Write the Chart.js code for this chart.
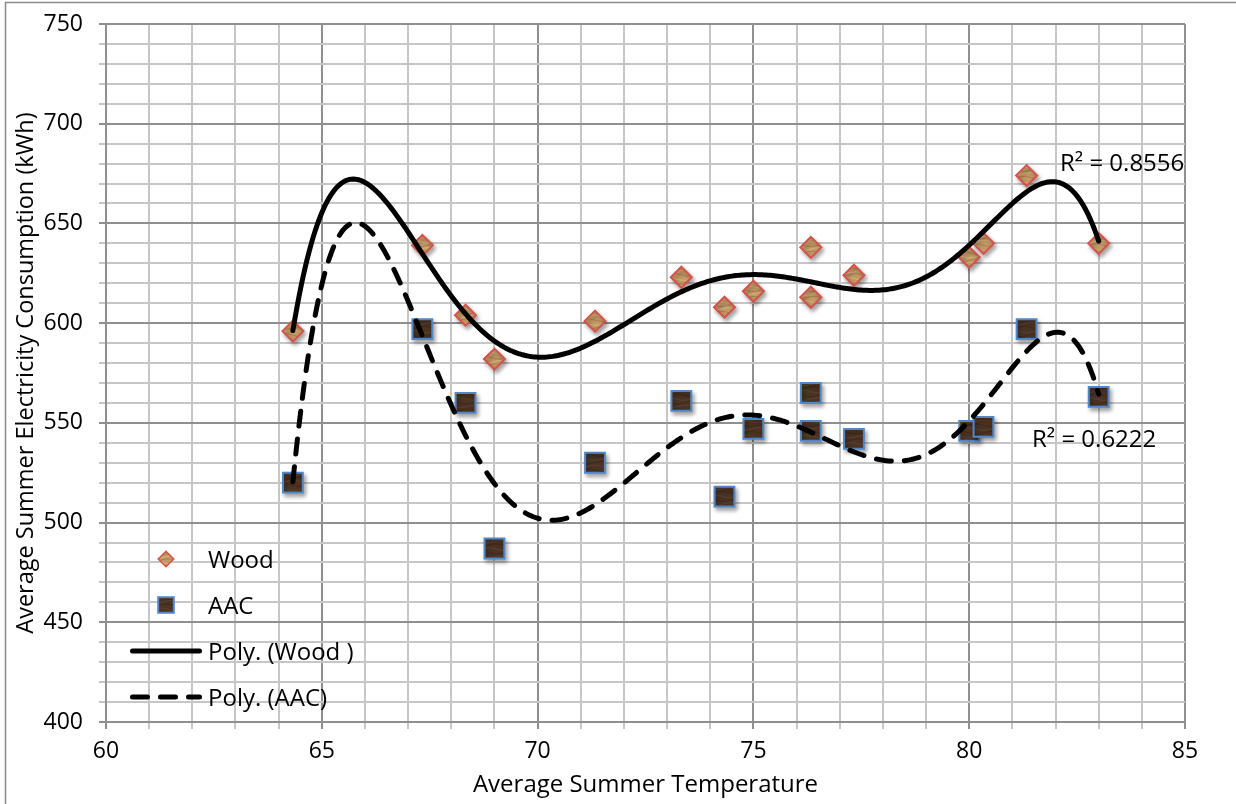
<!DOCTYPE html>
<html>
<head>
<meta charset="utf-8">
<title>Average Summer Electricity Consumption</title>
<script src="https://cdn.jsdelivr.net/npm/chart.js@4"></script>
<style>
  html, body { margin: 0; padding: 0; background: #fff; }
  #wrap { width: 1236px; height: 804px; }
</style>
</head>
<body>
<div id="wrap"><canvas id="chart" width="1236" height="804"></canvas></div>
<script>
// Average summer temperature of each site and the measured consumption per wall type
const temperatures = [64.33, 67.33, 68.33, 69.0, 71.33, 73.33, 74.33, 75.0, 76.33, 76.33, 77.33, 80.0, 80.33, 81.33, 83.0];
const woodKWh = [596, 639, 604, 582, 601, 623, 608, 616, 638, 613, 624, 633, 640, 674, 640];
const aacKWh  = [520, 597, 560, 487, 530, 561, 513, 547, 565, 546, 542, 546, 548, 597, 563];

const xTickLabels = [60, 65, 70, 75, 80, 85];
const yTickLabels = [400, 450, 500, 550, 600, 650, 700, 750];
const seriesNames = ['Wood', 'AAC', 'Poly. (Wood )', 'Poly. (AAC)'];
const rSquaredTexts = ['R\u00B2 = 0.8556', 'R\u00B2 = 0.6222'];
const xTitle = 'Average Summer Temperature';
const yTitle = 'Average Summer Electricity Consumption (kWh)';
const TREND_ORDER = 6;

const FONT = '"Open Sans", "Noto Sans", sans-serif';

// Least-squares polynomial trendline (x is centred and scaled to keep the system well conditioned)
function polyTrend(xs, ys, order) {
  const lo = Math.min(...xs), hi = Math.max(...xs);
  const cx = (lo + hi) / 2, sx = (hi - lo) / 2;
  const n = order + 1;
  const A = Array.from({ length: n }, () => new Array(n).fill(0));
  const b = new Array(n).fill(0);
  xs.forEach((x, k) => {
    const u = (x - cx) / sx;
    const p = [1];
    for (let i = 1; i < 2 * n; i++) p.push(p[i - 1] * u);
    for (let i = 0; i < n; i++) {
      b[i] += ys[k] * p[i];
      for (let j = 0; j < n; j++) A[i][j] += p[i + j];
    }
  });
  for (let c = 0; c < n; c++) {
    let piv = c;
    for (let r = c + 1; r < n; r++) if (Math.abs(A[r][c]) > Math.abs(A[piv][c])) piv = r;
    [A[c], A[piv]] = [A[piv], A[c]];
    [b[c], b[piv]] = [b[piv], b[c]];
    for (let r = c + 1; r < n; r++) {
      const f = A[r][c] / A[c][c];
      for (let j = c; j < n; j++) A[r][j] -= f * A[c][j];
      b[r] -= f * b[c];
    }
  }
  const coef = new Array(n).fill(0);
  for (let i = n - 1; i >= 0; i--) {
    let s = b[i];
    for (let j = i + 1; j < n; j++) s -= A[i][j] * coef[j];
    coef[i] = s / A[i][i];
  }
  const f = x => { const u = (x - cx) / sx; let v = 0; for (let i = n - 1; i >= 0; i--) v = v * u + coef[i]; return v; };
  const pts = [];
  const steps = 400;
  for (let i = 0; i <= steps; i++) {
    const x = lo + (hi - lo) * i / steps;
    pts.push({ x, y: f(x) });
  }
  return pts;
}

// Small wood-grain tiles used as marker fills
function grainPattern(ctx, base, dark, light) {
  const size = 30;
  const c = document.createElement('canvas');
  c.width = size; c.height = size;
  const g = c.getContext('2d');
  g.fillStyle = base;
  g.fillRect(0, 0, size, size);
  g.lineWidth = 1;
  for (let i = 0; i < 8; i++) {
    g.strokeStyle = i % 2 ? dark : light;
    g.globalAlpha = 0.7;
    g.beginPath();
    for (let x = 0; x <= size; x += 1.5) {
      const y = i * 3.75 + 1.5 + 1.3 * Math.sin((x + i * 7) / 4.8);
      if (x === 0) g.moveTo(x, y); else g.lineTo(x, y);
    }
    g.stroke();
  }
  return ctx.createPattern(c, 'repeat');
}

const canvas = document.getElementById('chart');
const ctx = canvas.getContext('2d');
const woodFill = grainPattern(ctx, '#c49a66', '#9e7444', '#dcbd8c');
const aacFill  = grainPattern(ctx, '#4a3323', '#3a2518', '#624734');

const WOOD_BORDER = '#d6524a';
const AAC_BORDER = '#4f87c9';

const toPoints = ys => temperatures.map((t, i) => ({ x: t, y: ys[i] }));

// Drop shadow under the scatter markers
const markerShadow = {
  id: 'markerShadow',
  beforeDatasetDraw(chart, args) {
    if (!chart.data.datasets[args.index].shadow) return;
    const c = chart.ctx;
    c.save();
    c.shadowColor = 'rgba(0,0,0,0.35)';
    c.shadowBlur = 4;
    c.shadowOffsetX = 2;
    c.shadowOffsetY = 3;
  },
  afterDatasetDraw(chart, args) {
    if (chart.data.datasets[args.index].shadow) chart.ctx.restore();
  }
};

// Axis titles, R² labels, in-plot legend and the outer frame
const decorations = {
  id: 'decorations',
  afterDraw(chart) {
    const c = chart.ctx;
    const area = chart.chartArea;
    c.save();
    c.fillStyle = '#000';
    c.font = '24px ' + FONT;
    c.textBaseline = 'alphabetic';

    // x title
    c.textAlign = 'center';
    c.fillText(xTitle, (area.left + area.right) / 2, 792);

    // y title, centred on the plot area
    c.save();
    c.translate(33, (area.top + area.bottom) / 2);
    c.rotate(-Math.PI / 2);
    c.font = '23.5px ' + FONT;
    c.fillText(yTitle, 0, 0);
    c.restore();

    // R² labels
    c.textAlign = 'left';
    c.fillText(rSquaredTexts[0], 1060, 171);
    c.fillText(rSquaredTexts[1], 1032, 447);

    // legend
    const rows = [559, 605, 651, 697];
    const textX = 208;
    const markX = 166;
    const helpers = Chart.helpers;

    c.save();
    c.fillStyle = woodFill; c.strokeStyle = WOOD_BORDER; c.lineWidth = 1.5;
    helpers.drawPoint(c, { pointStyle: 'rectRot', radius: 7.8, rotation: 0, borderWidth: 1.5 }, markX, rows[0]);
    c.fillStyle = aacFill; c.strokeStyle = AAC_BORDER; c.lineWidth = 2;
    helpers.drawPoint(c, { pointStyle: 'rect', radius: 11, rotation: 0, borderWidth: 2 }, markX, rows[1]);
    c.restore();

    c.save();
    c.strokeStyle = '#000';
    c.lineWidth = 5;
    c.lineCap = 'round';
    c.beginPath(); c.moveTo(132.5, rows[2]); c.lineTo(199.5, rows[2]); c.stroke();
    c.setLineDash([15, 13]);
    c.beginPath(); c.moveTo(132.5, rows[3]); c.lineTo(199.5, rows[3]); c.stroke();
    c.restore();

    c.fillStyle = '#000';
    rows.forEach((y, i) => c.fillText(seriesNames[i], textX, y + 8.5));

    // outer frame
    c.strokeStyle = '#8a8a8a';
    c.lineWidth = 1.5;
    c.beginPath();
    c.moveTo(5.5, 810); c.lineTo(5.5, 2.5); c.lineTo(1240, 2.5);
    c.stroke();
    c.restore();
  }
};

const gridColor = (ctx, step) => {
  const v = ctx.tick ? ctx.tick.value : 0;
  return Math.abs(v % step) < 1e-6 ? '#8f8f8f' : '#c6c6c6';
};

new Chart(ctx, {
  type: 'scatter',
  data: {
    datasets: [
      {
        label: seriesNames[2],
        data: polyTrend(temperatures, woodKWh, TREND_ORDER),
        showLine: true, pointRadius: 0, pointHoverRadius: 0,
        borderColor: '#000', borderWidth: 5,
        borderCapStyle: 'round', borderJoinStyle: 'round',
        tension: 0, fill: false, order: 0
      },
      {
        label: seriesNames[3],
        data: polyTrend(temperatures, aacKWh, TREND_ORDER),
        showLine: true, pointRadius: 0, pointHoverRadius: 0,
        borderColor: '#000', borderWidth: 5,
        borderDash: [15, 13],
        borderCapStyle: 'round', borderJoinStyle: 'round',
        tension: 0, fill: false, order: 0
      },
      {
        label: seriesNames[0],
        data: toPoints(woodKWh),
        pointStyle: 'rectRot', pointRadius: 10.5, pointHoverRadius: 10.5,
        backgroundColor: woodFill, borderColor: WOOD_BORDER, borderWidth: 2,
        shadow: true, order: 1
      },
      {
        label: seriesNames[1],
        data: toPoints(aacKWh),
        pointStyle: 'rect', pointRadius: 14, pointHoverRadius: 14,
        backgroundColor: aacFill, borderColor: AAC_BORDER, borderWidth: 2,
        shadow: true, order: 1
      }
    ]
  },
  options: {
    responsive: false,
    animation: false,
    devicePixelRatio: 1,
    events: [],
    layout: { padding: { top: 24, right: 51, left: 0, bottom: 0 } },
    plugins: {
      legend: { display: false },
      tooltip: { enabled: false },
      title: { display: false }
    },
    scales: {
      x: {
        type: 'linear', min: 60, max: 85,
        afterFit: s => { s.height = 82; s.paddingLeft = 0; s.paddingRight = 0; },
        ticks: {
          stepSize: 1, autoSkip: false, maxRotation: 0, padding: 9,
          color: '#000', font: { family: FONT, size: 23 },
          callback: v => xTickLabels.includes(v) ? String(v) : ''
        },
        grid: { color: c => gridColor(c, 5), lineWidth: 2, tickLength: 7 },
        border: { color: '#8f8f8f', width: 2 }
      },
      y: {
        type: 'linear', min: 400, max: 750,
        afterFit: s => { s.width = 106; s.paddingTop = 0; s.paddingBottom = 0; },
        ticks: {
          stepSize: 10, autoSkip: false, padding: 16,
          color: '#000', font: { family: FONT, size: 23 },
          callback: v => yTickLabels.includes(v) ? String(v) : ''
        },
        grid: { color: c => gridColor(c, 50), lineWidth: 2, tickLength: 7 },
        border: { color: '#8f8f8f', width: 2 }
      }
    }
  },
  plugins: [markerShadow, decorations]
});
</script>
</body>
</html>
